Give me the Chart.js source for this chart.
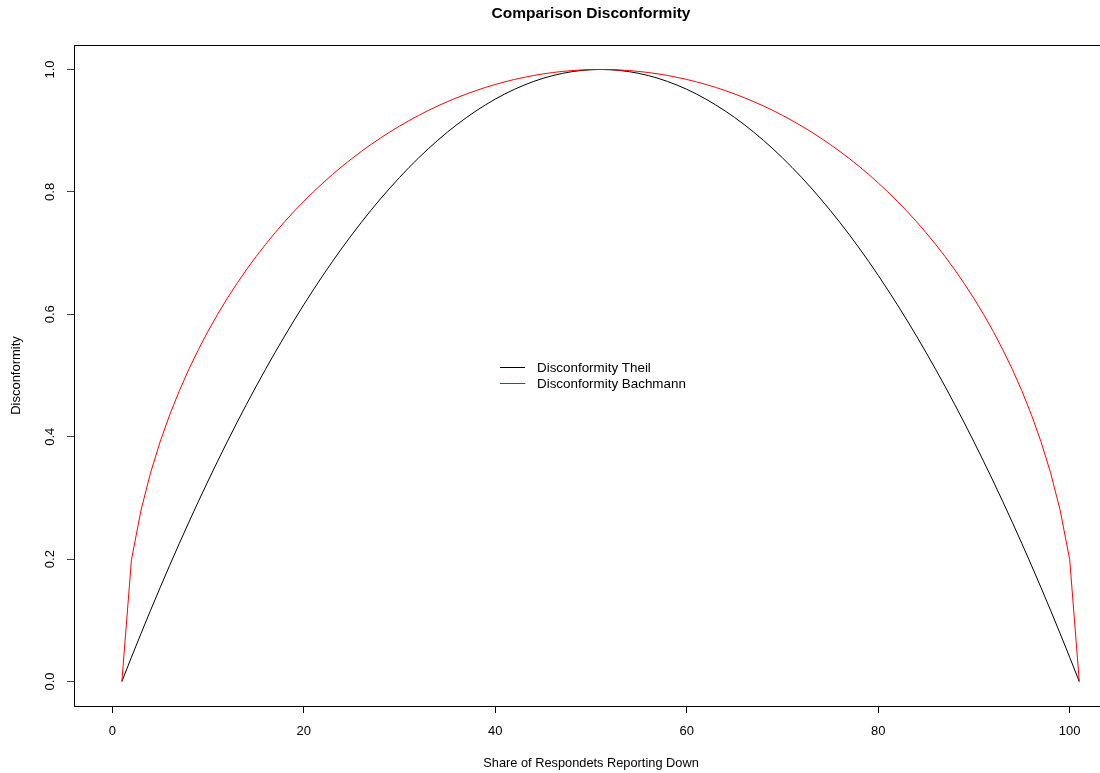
<!DOCTYPE html>
<html lang="en">
  <head>
    <meta charset="UTF-8" />
    <title>Comparison Disconformity</title>
    <script src="https://cdn.jsdelivr.net/npm/chart.js@4.4.0/dist/chart.umd.min.js"></script>
    <style>
      html, body { margin: 0; padding: 0; overflow: hidden; background: #fff; }
      #wrap { width: 1100px; height: 773px; overflow: hidden; }
      canvas { display: block; }
    </style>
  </head>
  <body>
    <div id="wrap"><canvas id="myChart" width="1108" height="773"></canvas></div>

    <script>
      // share of respondents reporting down (x) and the two disconformity measures
      const share = [
        1, 2, 3, 4, 5, 6, 7, 8, 9, 10, 11, 12, 13, 14, 15, 16, 17, 18, 19, 20,
        21, 22, 23, 24, 25, 26, 27, 28, 29, 30, 31, 32, 33, 34, 35, 36, 37, 38, 39, 40,
        41, 42, 43, 44, 45, 46, 47, 48, 49, 50, 51, 52, 53, 54, 55, 56, 57, 58, 59, 60,
        61, 62, 63, 64, 65, 66, 67, 68, 69, 70, 71, 72, 73, 74, 75, 76, 77, 78, 79, 80,
        81, 82, 83, 84, 85, 86, 87, 88, 89, 90, 91, 92, 93, 94, 95, 96, 97, 98, 99, 100, 101
      ];
      const theil = [
        0, 0.0396, 0.0784, 0.1164, 0.1536, 0.1900, 0.2256, 0.2604, 0.2944, 0.3276, 0.3600,
        0.3916, 0.4224, 0.4524, 0.4816, 0.5100, 0.5376, 0.5644, 0.5904, 0.6156, 0.6400,
        0.6636, 0.6864, 0.7084, 0.7296, 0.7500, 0.7696, 0.7884, 0.8064, 0.8236, 0.8400,
        0.8556, 0.8704, 0.8844, 0.8976, 0.9100, 0.9216, 0.9324, 0.9424, 0.9516, 0.9600,
        0.9676, 0.9744, 0.9804, 0.9856, 0.9900, 0.9936, 0.9964, 0.9984, 0.9996, 1.0000,
        0.9996, 0.9984, 0.9964, 0.9936, 0.9900, 0.9856, 0.9804, 0.9744, 0.9676, 0.9600,
        0.9516, 0.9424, 0.9324, 0.9216, 0.9100, 0.8976, 0.8844, 0.8704, 0.8556, 0.8400,
        0.8236, 0.8064, 0.7884, 0.7696, 0.7500, 0.7296, 0.7084, 0.6864, 0.6636, 0.6400,
        0.6156, 0.5904, 0.5644, 0.5376, 0.5100, 0.4816, 0.4524, 0.4224, 0.3916, 0.3600,
        0.3276, 0.2944, 0.2604, 0.2256, 0.1900, 0.1536, 0.1164, 0.0784, 0.0396, 0
      ];
      const bachmann = [
        0, 0.1990, 0.2800, 0.3412, 0.3919, 0.4359, 0.4750, 0.5103, 0.5426, 0.5724, 0.6000,
        0.6258, 0.6499, 0.6726, 0.6940, 0.7141, 0.7332, 0.7513, 0.7684, 0.7846, 0.8000,
        0.8146, 0.8285, 0.8417, 0.8542, 0.8660, 0.8773, 0.8879, 0.8980, 0.9075, 0.9165,
        0.9250, 0.9330, 0.9404, 0.9474, 0.9539, 0.9600, 0.9656, 0.9708, 0.9755, 0.9798,
        0.9837, 0.9871, 0.9902, 0.9928, 0.9950, 0.9968, 0.9982, 0.9992, 0.9998, 1.0000,
        0.9998, 0.9992, 0.9982, 0.9968, 0.9950, 0.9928, 0.9902, 0.9871, 0.9837, 0.9798,
        0.9755, 0.9708, 0.9656, 0.9600, 0.9539, 0.9474, 0.9404, 0.9330, 0.9250, 0.9165,
        0.9075, 0.8980, 0.8879, 0.8773, 0.8660, 0.8542, 0.8417, 0.8285, 0.8146, 0.8000,
        0.7846, 0.7684, 0.7513, 0.7332, 0.7141, 0.6940, 0.6726, 0.6499, 0.6258, 0.6000,
        0.5724, 0.5426, 0.5103, 0.4750, 0.4359, 0.3919, 0.3412, 0.2800, 0.1990, 0
      ];
      const xTicks = [0, 20, 40, 60, 80, 100];
      const yTicks = [0, 0.2, 0.4, 0.6, 0.8, 1.0];

      const FONT = "'Liberation Sans', Arial, Helvetica, sans-serif";
      Chart.defaults.font.family = FONT;
      Chart.defaults.font.size = 13;
      Chart.defaults.color = "#000";

      const toPoints = (ys) => share.map((x, i) => ({ x: x, y: ys[i] }));

      // box round the plot region, like R's box()
      const frame = {
        id: "frame",
        afterDatasetsDraw(chart) {
          const { ctx, chartArea: a } = chart;
          ctx.save();
          ctx.strokeStyle = "#000";
          ctx.lineWidth = 1;
          ctx.strokeRect(a.left + 0.5, a.top + 0.5, a.right - a.left - 1, a.bottom - a.top);
          ctx.restore();
        },
      };

      // legend sits inside the plot, drawn by hand
      const innerLegend = {
        id: "innerLegend",
        afterDatasetsDraw(chart) {
          const ctx = chart.ctx;
          ctx.save();
          ctx.font = "13.4px " + FONT;
          ctx.textBaseline = "middle";
          ctx.lineWidth = 1;
          chart.data.datasets.forEach((ds, i) => {
            const y = 367.5 + i * 16;
            ctx.strokeStyle = ds.borderColor;
            ctx.beginPath();
            ctx.moveTo(500, y);
            ctx.lineTo(525, y);
            ctx.stroke();
            ctx.fillStyle = "#000";
            ctx.fillText(ds.label, 537, y + 0.5);
          });
          ctx.restore();
        },
      };

      const ctx = document.getElementById("myChart").getContext("2d");
      const myChart = new Chart(ctx, {
        type: "line",
        data: {
          datasets: [
            {
              label: "Disconformity Theil",
              data: toPoints(theil),
              borderColor: "#000000",
              borderWidth: 1,
              pointRadius: 0,
              tension: 0,
              fill: false,
              order: 1,
            },
            {
              label: "Disconformity Bachmann",
              data: toPoints(bachmann),
              borderColor: "#ff0000",
              borderWidth: 1,
              pointRadius: 0,
              tension: 0,
              fill: false,
              order: 0,
            },
          ],
        },
        options: {
          responsive: false,
          animation: false,
          layout: { padding: 0 },
          plugins: {
            legend: { display: false },
            tooltip: { enabled: false },
            title: {
              display: true,
              text: "Comparison Disconformity",
              fullSize: false,
              color: "#000",
              font: { size: 15.5, weight: "bold" },
              padding: { top: 4.7, bottom: 21.7 },
            },
          },
          scales: {
            x: {
              type: "linear",
              min: -4,
              max: 104,
              afterBuildTicks: (axis) => {
                axis.ticks = xTicks.map((v) => ({ value: v }));
              },
              afterFit: (axis) => {
                axis.height = 67;
              },
              ticks: { padding: 11, color: "#000", font: { size: 13 } },
              grid: { drawOnChartArea: false, drawTicks: true, tickLength: 7, color: "#000" },
              border: { display: false },
              title: {
                display: true,
                text: "Share of Respondets Reporting Down",
                color: "#000",
                font: { size: 12.8 },
                padding: { top: 0, bottom: 2 },
              },
            },
            y: {
              min: -0.04,
              max: 1.04,
              afterBuildTicks: (axis) => {
                axis.ticks = yTicks.map((v) => ({ value: v }));
              },
              afterFit: (axis) => {
                axis.width = 74;
              },
              ticks: {
                minRotation: 90,
                maxRotation: 90,
                crossAlign: "center",
                padding: 8,
                color: "#000",
                font: { size: 13 },
                callback: function (value) {
                  return Number(value).toFixed(1);
                },
              },
              grid: { drawOnChartArea: false, drawTicks: true, tickLength: 7, color: "#444" },
              border: { display: false },
              title: {
                display: true,
                text: "Disconformity",
                color: "#000",
                font: { size: 13 },
                padding: { top: 9, bottom: 0 },
              },
            },
          },
        },
        plugins: [frame, innerLegend],
      });
    </script>
  </body>
</html>
